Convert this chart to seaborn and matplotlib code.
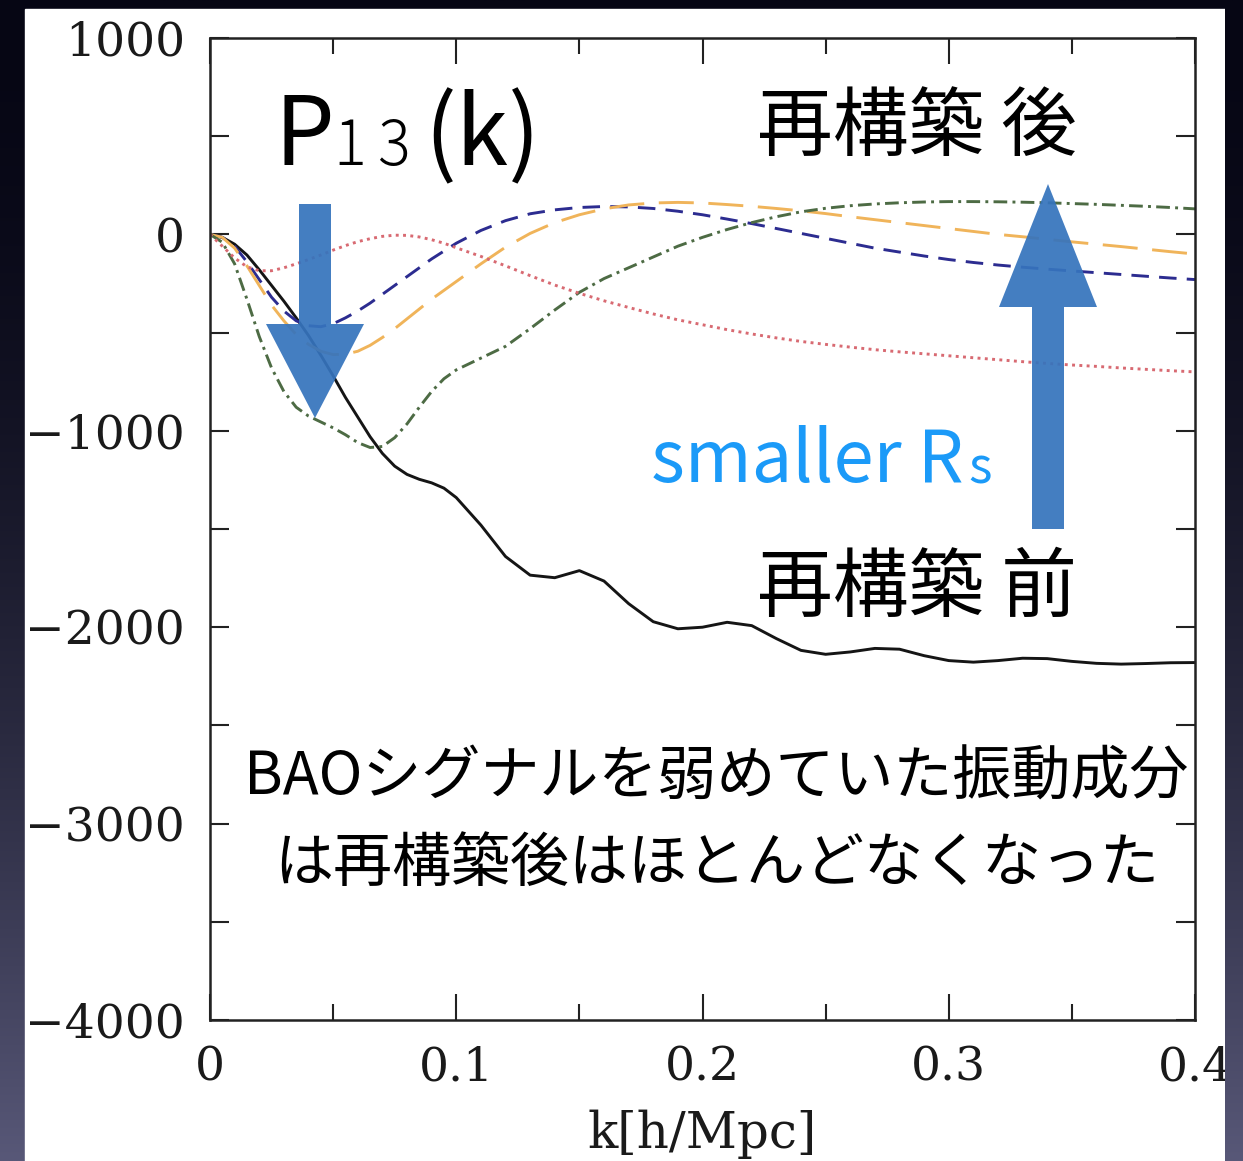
import numpy as np
import pandas as pd
import matplotlib
matplotlib.use("Agg")
import matplotlib.pyplot as plt
from matplotlib.patches import Polygon, Rectangle
from matplotlib.ticker import MultipleLocator, FixedLocator
import seaborn as sns

# ---------------- data ----------------
k = [0.0, 0.005, 0.01, 0.015, 0.02, 0.025, 0.03, 0.035, 0.04, 0.045, 0.05,
     0.055, 0.06, 0.065, 0.07, 0.075, 0.08, 0.085, 0.09, 0.095, 0.10,
     0.11, 0.12, 0.13, 0.14, 0.15, 0.16, 0.17, 0.18, 0.19, 0.20,
     0.21, 0.22, 0.23, 0.24, 0.25, 0.26, 0.27, 0.28, 0.29, 0.30,
     0.31, 0.32, 0.33, 0.34, 0.35, 0.36, 0.37, 0.38, 0.39, 0.40]

p13_before = [0, -15, -50, -105, -180, -260, -340, -425, -515, -615, -720,
              -830, -930, -1030, -1115, -1180, -1222, -1247, -1265, -1292, -1340,
              -1480, -1640, -1735, -1748, -1712, -1765, -1880, -1972, -2008, -2000,
              -1975, -1992, -2058, -2118, -2138, -2126, -2108, -2112, -2145, -2170,
              -2178, -2170, -2158, -2160, -2174, -2184, -2188, -2185, -2181, -2180]

p13_rs_a = [0, -15, -60, -140, -230, -320, -390, -440, -465, -470, -455,
            -425, -390, -350, -305, -260, -215, -170, -125, -85, -45,
            20, 70, 105, 125, 137, 142, 140, 132, 118, 100,
            78, 55, 30, 5, -20, -45, -70, -90, -110, -128,
            -143, -156, -167, -177, -186, -195, -204, -213, -222, -230]

p13_rs_b = [0, -15, -70, -160, -260, -360, -440, -510, -560, -595, -612,
            -610, -595, -565, -525, -480, -430, -380, -330, -285, -240,
            -150, -65, 5, 60, 100, 130, 150, 160, 163, 160,
            152, 143, 132, 120, 106, 90, 75, 60, 45, 30,
            15, 0, -12, -25, -38, -50, -62, -75, -88, -100]

p13_rs_c = [0, -40, -150, -330, -520, -680, -800, -880, -925, -955, -985,
            -1020, -1060, -1085, -1080, -1035, -965, -880, -800, -735, -690,
            -630, -570, -480, -385, -295, -225, -170, -115, -60, -15,
            25, 60, 90, 115, 133, 146, 155, 161, 165, 167,
            167, 166, 164, 161, 157, 153, 148, 143, 137, 130]

p13_rs_d = [0, -60, -120, -165, -185, -185, -170, -150, -128, -105, -80,
            -57, -37, -22, -10, -4, -5, -13, -27, -45, -68,
            -112, -160, -210, -258, -300, -338, -372, -405, -435, -460,
            -485, -507, -527, -545, -560, -574, -587, -598, -608, -618,
            -628, -638, -648, -657, -665, -672, -680, -687, -694, -700]

series_names = ["before", "rs_a", "rs_b", "rs_c", "rs_d"]
series_values = [p13_before, p13_rs_a, p13_rs_b, p13_rs_c, p13_rs_d]

x_ticks = [0.0, 0.1, 0.2, 0.3, 0.4]
x_tick_labels = ["0", "0.1", "0.2", "0.3", "0.4"]
y_ticks = [1000, 0, -1000, -2000, -3000, -4000]
y_tick_labels = ["1000", "0", "\u22121000", "\u22122000", "\u22123000", "\u22124000"]

# ---------------- figure ----------------
W, H = 1243, 1161
sns.set_theme(style="ticks")
plt.rcParams["font.family"] = ["DejaVu Serif", "DejaVu Sans"]
fig = plt.figure(figsize=(W / 100, H / 100), dpi=100)

# background gradient
t = np.linspace(0, 1, 400)[:, None]
top = np.array([6, 6, 20]) / 255.0
bot = np.array([88, 88, 120]) / 255.0
grad = top + (bot - top) * (t ** 1.8)[..., None]
grad = np.repeat(grad, 4, axis=1)

bg = fig.add_axes([0, 0, 1, 1], zorder=-5)
bg.imshow(grad, extent=[0, 1, 0, 1], aspect="auto", origin="upper")
bg.add_patch(Rectangle((25 / W, 0), 1200 / W, 1 - 9 / H, color="white",
                       transform=bg.transAxes))
bg.set_axis_off()

# main axes
ax = fig.add_axes([210 / W, 1 - 1020 / H, 985 / W, 982 / H])
ax.set_facecolor("white")

df = pd.DataFrame({
    "k": np.tile(k, len(series_names)),
    "P": np.concatenate(series_values),
    "series": np.repeat(series_names, len(k)),
})
palette = {"before": "#151515", "rs_a": "#2c2c90", "rs_b": "#f0b45a",
           "rs_c": "#4d6b44", "rs_d": "#d86a72"}
dashes = {"before": "", "rs_a": (6, 3.5), "rs_b": (12, 5),
          "rs_c": (4.7, 1.8, 1, 1.8), "rs_d": (1, 1.5)}
sns.lineplot(data=df, x="k", y="P", hue="series", style="series",
             palette=palette, dashes=dashes, linewidth=2.1,
             legend=False, ax=ax, sort=False)

ax.set_xlim(0, 0.4)
ax.set_ylim(-4000, 1000)
ax.xaxis.set_major_locator(FixedLocator(x_ticks))
ax.set_xticklabels(x_tick_labels)
ax.xaxis.set_minor_locator(MultipleLocator(0.05))
ax.yaxis.set_major_locator(FixedLocator(y_ticks))
ax.set_yticklabels(y_tick_labels)
ax.yaxis.set_minor_locator(MultipleLocator(500))

ax.tick_params(axis="both", which="both", direction="in", top=True,
               right=True, width=1.5, color="#222222", labelsize=34,
               labelcolor="#1a1a1a", pad=18)
ax.tick_params(axis="x", which="major", length=19)
ax.tick_params(axis="x", which="minor", length=11.5)
ax.tick_params(axis="y", which="both", length=14)
for sp in ax.spines.values():
    sp.set_linewidth(1.8)
    sp.set_color("#222222")
ax.set_xlabel("k[h/Mpc]", fontsize=36, color="#1a1a1a", labelpad=14)
ax.set_ylabel("")

# ---------------- annotations (pixel positions) ----------------
def fx(x):
    return x / W

def fy(y):
    return 1 - y / H

arrow_col = "#3674bd"
down_pts = [(299, 204), (331, 204), (331, 324), (364, 324), (315, 418),
            (266, 324), (299, 324)]
up_pts = [(1032, 529), (1064, 529), (1064, 307), (1097, 307), (1048, 184),
          (999, 307), (1032, 307)]
for pts in (down_pts, up_pts):
    fig.add_artist(Polygon([(fx(x), fy(y)) for x, y in pts], closed=True,
                           transform=fig.transFigure, facecolor=arrow_col,
                           edgecolor="none", alpha=0.93, zorder=3))

jp = ["Noto Sans CJK JP", "DejaVu Sans"]
fig.text(fx(275), fy(165), "P", fontsize=68, family=jp, ha="left",
         va="baseline", color="black", zorder=4)
fig.text(fx(333), fy(165), "1", fontsize=44, family=jp, ha="left",
         va="baseline", color="black", zorder=4, fontweight="light")
fig.text(fx(377), fy(165), "3", fontsize=44, family=jp, ha="left",
         va="baseline", color="black", zorder=4, fontweight="light")
fig.text(fx(424), fy(165), "(k)", fontsize=68, family=jp, ha="left",
         va="baseline", color="black", zorder=4)

fig.text(fx(757), fy(128), "再構築 後", fontsize=54.5, family=jp, ha="left",
         va="center", color="black", zorder=4)
fig.text(fx(757), fy(589), "再構築 前", fontsize=54.5, family=jp, ha="left",
         va="center", color="black", zorder=4)

blue_txt = "#1b9af8"
fig.text(fx(651), fy(482), "smaller R", fontsize=52, family=jp, ha="left",
         va="baseline", color=blue_txt, zorder=4)
fig.text(fx(968), fy(483), "s", fontsize=36, family=jp, ha="left",
         va="baseline", color=blue_txt, zorder=4)

fig.text(fx(716), fy(778), "BAOシグナルを弱めていた振動成分", fontsize=42.5,
         family=jp, ha="center", va="center", color="black", zorder=4)
fig.text(fx(717), fy(865), "は再構築後はほとんどなくなった", fontsize=42.5,
         family=jp, ha="center", va="center", color="black", zorder=4)

# right dark strip drawn over everything (clips the "0.4" label)
ov = fig.add_axes([1225 / W, 0, 18 / W, 1], zorder=10)
ov.imshow(grad, extent=[0, 1, 0, 1], aspect="auto", origin="upper")
ov.set_axis_off()

fig.savefig("out.png", dpi=100)
